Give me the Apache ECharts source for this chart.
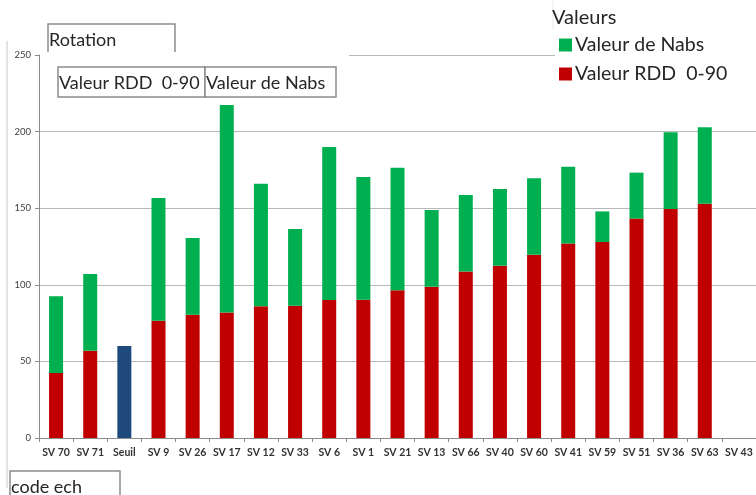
<!DOCTYPE html>
<html>
<head>
<meta charset="utf-8">
<script src="https://cdn.jsdelivr.net/npm/echarts@6/dist/echarts.min.js"></script>
<style>
  html, body { margin: 0; padding: 0; background: #fff; }
  #chart { width: 756px; height: 495px; }
</style>
</head>
<body>
<div id="chart"></div>
<script>
// categories (code ech)
var categories = ['SV 70', 'SV 71', 'Seuil', 'SV 9', 'SV 26', 'SV 17', 'SV 12', 'SV 33', 'SV 6', 'SV 1',
    'SV 21', 'SV 13', 'SV 66', 'SV 40', 'SV 60', 'SV 41', 'SV 59', 'SV 51', 'SV 36', 'SV 63', 'SV 43'];
// Valeur RDD 0-90
var rddValues = [42.5, 57, '-', 76.6, 80.5, 82, 86, 86.4, 90, 90.3,
    96.4, 98.8, 108.6, 112.5, 119.6, 127, 127.9, 143.2, 149.5, 152.9, '-'];
// Valeur de Nabs
var nabsValues = [50, 50, '-', 80, 50, 135.4, 80, 50, 100, 80,
    80, 50, 50, 50, 50, 50, 20, 30, 50, 50, '-'];
// seuil
var seuilValues = ['-', '-', 60, '-', '-', '-', '-', '-', '-', '-',
    '-', '-', '-', '-', '-', '-', '-', '-', '-', '-', '-'];
var yTicks = [0, 50, 100, 150, 200, 250];

var font = 'Lato, "Open Sans", sans-serif';

function box(x, y, w, h, label) {
    return {
        type: 'group',
        children: [
            {type: 'rect', shape: {x: x, y: y, width: w, height: h},
             style: {fill: '#fff', stroke: '#8c8c8c', lineWidth: 1.5}},
            {type: 'text', x: x + 1, y: y + h / 2 + 1,
             style: {text: label, font: '18px ' + font, fill: '#262626', verticalAlign: 'middle'}}
        ]
    };
}

var myChart = echarts.init(document.getElementById('chart'));
myChart.setOption({
    animation: false,
    backgroundColor: '#fff',
    textStyle: {fontFamily: font},
    legend: {
        orient: 'vertical',
        left: 554,
        top: 30,
        itemWidth: 13,
        itemHeight: 13,
        itemGap: 9,
        icon: 'rect',
        data: ['Valeur de Nabs', 'Valeur RDD  0-90'],
        textStyle: {fontSize: 19.5, color: '#262626', fontFamily: font, padding: [0, 0, 0, -2]}
    },
    grid: {left: 39, top: 55, bottom: 57, width: 720, containLabel: false},
    xAxis: {
        type: 'category',
        data: categories,
        axisLine: {lineStyle: {color: '#8c8c8c'}},
        axisTick: {show: true, interval: 0, length: 4, lineStyle: {color: '#8c8c8c'}},
        axisLabel: {interval: 0, fontSize: 10.5, fontWeight: 'bold', color: '#333', margin: 9, fontFamily: font}
    },
    yAxis: {
        type: 'value',
        min: yTicks[0],
        max: yTicks[yTicks.length - 1],
        interval: 50,
        axisLine: {show: true, lineStyle: {color: '#8c8c8c'}},
        axisTick: {show: true, length: 4, lineStyle: {color: '#8c8c8c'}},
        axisLabel: {fontSize: 9.5, color: '#404040', margin: 8, fontFamily: font},
        splitLine: {lineStyle: {color: '#b8b8b8'}}
    },
    graphic: [
        // parts of the top gridline hidden behind the boxes / legend
        {type: 'rect', z: 1, shape: {x: 40, y: 52, width: 309, height: 6}, style: {fill: '#fff'}},
        {type: 'rect', z: 1, shape: {x: 555, y: 52, width: 201, height: 6}, style: {fill: '#fff'}},
        {type: 'line', z: 1, shape: {x1: 7, y1: 41, x2: 7, y2: 488}, style: {stroke: '#c8c8c8', lineWidth: 1}},
        {type: 'line', z: 1, shape: {x1: 553, y1: 0, x2: 553, y2: 30}, style: {stroke: '#ececec', lineWidth: 1}},
        {type: 'text', z: 10, x: 552, y: 18,
         style: {text: 'Valeurs', font: '20px ' + font, fill: '#262626', verticalAlign: 'middle'}},
        box(48, 24, 127, 30, 'Rotation'),
        box(58, 67, 147, 30, 'Valeur RDD  0-90'),
        box(205, 67, 131, 30, 'Valeur de Nabs'),
        box(10, 471, 110, 30, 'code ech')
    ],
    series: [
        {
            name: 'Valeur RDD  0-90',
            type: 'bar',
            stack: 'total',
            barWidth: 14,
            itemStyle: {color: '#C00000'},
            data: rddValues
        },
        {
            name: 'Seuil',
            type: 'bar',
            stack: 'total',
            barWidth: 14,
            itemStyle: {color: '#1F497D'},
            data: seuilValues
        },
        {
            name: 'Valeur de Nabs',
            type: 'bar',
            stack: 'total',
            barWidth: 14,
            itemStyle: {color: '#00B050'},
            data: nabsValues
        }
    ]
});
</script>
</body>
</html>
